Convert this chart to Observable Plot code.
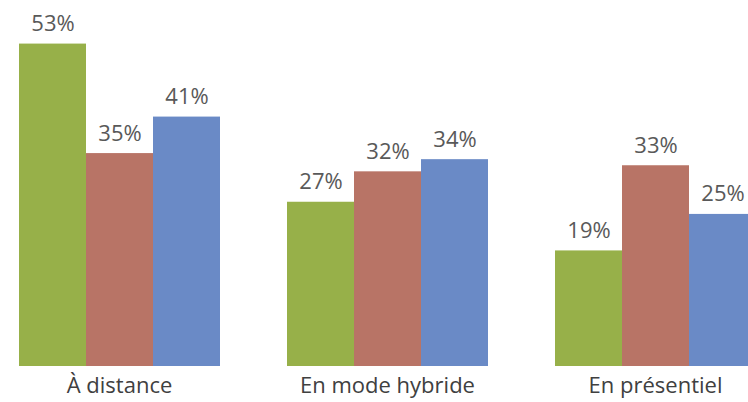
<!DOCTYPE html>
<html>
<head>
<meta charset="utf-8">
<script src="https://cdn.jsdelivr.net/npm/d3@7"></script>
<script src="https://cdn.jsdelivr.net/npm/@observablehq/plot@0.6"></script>
<style>
  html, body { margin: 0; padding: 0; background: #fff; }
  #chart { width: 748px; height: 402px; overflow: hidden; }
</style>
</head>
<body>
<div id="chart"></div>
<script>
const categories = ["À distance", "En mode hybride", "En présentiel"];
const series = ["Série 1", "Série 2", "Série 3"];
const serie1 = [53, 27, 19];
const serie2 = [35, 32, 33];
const serie3 = [41, 34, 25];
const colors = ["#97b049", "#b87466", "#6a8ac6"];

const seriesValues = [serie1, serie2, serie3];
const data = categories.flatMap((c, i) =>
  series.map((s, j) => ({ category: c, series: s, value: seriesValues[j][i] }))
);

const chart = Plot.plot({
  width: 748,
  height: 402,
  marginTop: 1,
  marginBottom: 36,
  marginLeft: 0,
  marginRight: 0,
  style: { fontFamily: "'Open Sans', sans-serif", background: "#fff", overflow: "hidden" },
  fx: { domain: categories, range: [17, 757], paddingInner: 0.247, paddingOuter: 0, label: null },
  x: { domain: series, padding: 0, axis: null },
  y: { domain: [0, 60], axis: null },
  color: { domain: series, range: colors },
  marks: [
    Plot.barY(data, { fx: "category", x: "series", y: "value", fill: "series" }),
    Plot.text(data, {
      fx: "category", x: "series", y: "value",
      text: d => d.value + "%",
      lineAnchor: "bottom", dy: -13,
      fontSize: 22, fill: "#595959"
    }),
    Plot.axisFx({ anchor: "bottom", tickSize: 0, tickPadding: 11, fontSize: 22, color: "#404040", label: null })
  ]
});
document.getElementById("chart").appendChild(chart);
</script>
</body>
</html>
